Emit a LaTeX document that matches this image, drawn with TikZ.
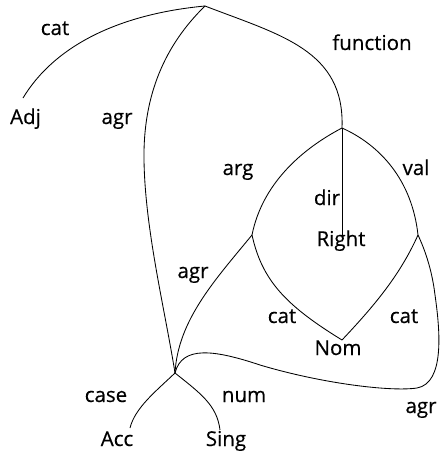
\documentclass[tikz,border=0pt]{standalone}
\usepackage{fontspec}
\newfontfamily\lblfont{Open Sans}[FakeBold=0.4]
\begin{document}
\begin{tikzpicture}[x=1pt,y=-1pt,
  lbl/.style={anchor=base,inner sep=0pt,font=\lblfont\fontsize{20.5}{24}\selectfont},
  edge/.style={line width=0.85pt,line join=round}]
\useasboundingbox (0,0) rectangle (443,452);
% junctions
\coordinate (T) at (205,6);
\coordinate (F) at (342,128);
\coordinate (A) at (252,235);
\coordinate (V) at (418,235);
\coordinate (N) at (342,340);
\coordinate (S) at (175,373);
\coordinate (adjend) at (23,98);
\coordinate (rightend) at (342,236);
\coordinate (accend) at (130,428);
\coordinate (singend) at (220,430);
% value nodes
\node[lbl] (Adj) at (25.5,124) {Adj};
\node[lbl] (Right) at (341,246) {Right};
\node[lbl] (Nom) at (338,355) {Nom};
\node[lbl] (Acc) at (117,446) {Acc};
\node[lbl] (Sing) at (226,446) {Sing};
% edge labels
\node[lbl] (lcat1) at (55,35) {cat};
\node[lbl] (lfun) at (372,50) {function};
\node[lbl] (lagr1) at (117,124) {agr};
\node[lbl] (larg) at (238,175) {arg};
\node[lbl] (lval) at (416,175) {val};
\node[lbl] (ldir) at (327,205) {dir};
\node[lbl] (lagr2) at (193,278) {agr};
\node[lbl] (lcat2) at (282,323) {cat};
\node[lbl] (lcat3) at (404,323) {cat};
\node[lbl] (lcase) at (106,402) {case};
\node[lbl] (lnum) at (244,402) {num};
\node[lbl] (lagr3) at (421,413) {agr};
% edges
\draw[edge] (T) .. controls (120,14) and (55,45) .. (adjend);
\draw[edge] (T) .. controls (165,45) and (143,95) .. (144,160) .. controls (145,230) and (165,310) .. (S);
\draw[edge] (T) .. controls (280,35) and (345,50) .. (F);
\draw[edge] (F) .. controls (300,150) and (262,185) .. (A);
\draw[edge] (F) -- (rightend);
\draw[edge] (F) .. controls (380,145) and (412,180) .. (V);
\draw[edge] (A) .. controls (215,280) and (178,320) .. (S);
\draw[edge] (A) .. controls (262,280) and (285,305) .. (N);
\draw[edge] (V) .. controls (400,275) and (375,305) .. (N);
\draw[edge] (S) .. controls (182,345) and (215,350) .. (260,365) .. controls (320,383) and (390,392) .. (417,388) .. controls (445,383) and (440,330) .. (435,295) .. controls (432,270) and (425,250) .. (V);
\draw[edge] (S) .. controls (155,392) and (135,408) .. (accend);
\draw[edge] (S) .. controls (200,393) and (217,405) .. (singend);
\end{tikzpicture}
\end{document}
